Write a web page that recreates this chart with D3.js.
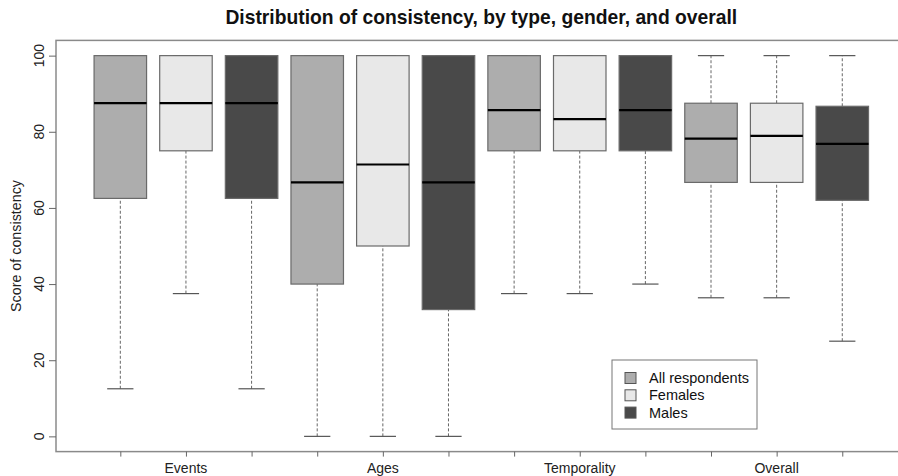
<!DOCTYPE html>
<html>
<head>
<meta charset="utf-8">
<script src="https://cdn.jsdelivr.net/npm/d3@7"></script>
<style>
  body { margin: 0; background: #fff; }
  svg { display: block; font-family: "Liberation Sans", Arial, sans-serif; }
</style>
</head>
<body>
<svg id="chart" width="898" height="476"></svg>
<script>
// categories and groups
const categories = ["Events", "Ages", "Temporality", "Overall"];
const groups = ["All respondents", "Females", "Males"];

// box stats per category: [lower whisker, q1, median, q3, upper whisker]
const allRespondents = [[12.5, 62.5, 87.5, 100, 100], [0, 40, 66.7, 100, 100], [37.5, 75, 85.7, 100, 100], [36.4, 66.7, 78.2, 87.5, 100]];
const females        = [[37.5, 75, 87.5, 100, 100], [0, 50, 71.4, 100, 100], [37.5, 75, 83.3, 100, 100], [36.4, 66.7, 78.9, 87.5, 100]];
const males          = [[12.5, 62.5, 87.5, 100, 100], [0, 33.3, 66.7, 100, 100], [40, 75, 85.7, 100, 100], [25, 62, 76.8, 86.7, 100]];

const yTicks = [0, 20, 40, 60, 80, 100];

const fills = ["#adadad", "#e8e8e8", "#494949"];

// flatten into one row per box, same order as the plot (All, Females, Males per category)
const series = [allRespondents, females, males];
let boxes = [];
categories.forEach((c, ci) => {
    groups.forEach((g, gi) => {
        let s = series[gi][ci];
        boxes.push({ pos: ci * 3 + gi + 1, group: gi, lo: s[0], q1: s[1], med: s[2], q3: s[3], hi: s[4] });
    });
});

const svg = d3.select('#chart');

// R style plot region: positions 1..12, 4% padding on each axis
const x = d3.scaleLinear().domain([0.02, 12.98]).range([56, 906.6]);
const y = d3.scaleLinear().domain([-4, 104]).range([451.6, 40.4]);

const boxW = (x(1) - x(0)) * 0.8;
const stapleW = boxW / 2;

// title
svg.append('text')
    .attr('x', (x.range()[0] + x.range()[1]) / 2)
    .attr('y', 24)
    .attr('text-anchor', 'middle')
    .attr('font-size', 19.3)
    .attr('font-weight', 'bold')
    .attr('fill', '#111')
    .text('Distribution of consistency, by type, gender, and overall');

// whiskers (dashed)
let bx = svg.append('g');
boxes.forEach(b => {
    let cx = x(b.pos);
    [[b.lo, b.q1], [b.q3, b.hi]].forEach(seg => {
        if (seg[0] === seg[1]) return;
        bx.append('line')
            .attr('x1', cx).attr('x2', cx)
            .attr('y1', y(seg[0])).attr('y2', y(seg[1]))
            .attr('stroke', '#666')
            .attr('stroke-width', 1)
            .attr('stroke-dasharray', '3,2');
    });
    // staples
    [b.lo, b.hi].forEach(v => {
        bx.append('line')
            .attr('x1', cx - stapleW / 2).attr('x2', cx + stapleW / 2)
            .attr('y1', y(v)).attr('y2', y(v))
            .attr('stroke', '#555')
            .attr('stroke-width', 1.2);
    });
});

// boxes
bx.selectAll('rect.box')
    .data(boxes)
    .join('rect')
    .attr('class', 'box')
    .attr('x', d => x(d.pos) - boxW / 2)
    .attr('width', boxW)
    .attr('y', d => y(d.q3))
    .attr('height', d => y(d.q1) - y(d.q3))
    .attr('fill', d => fills[d.group])
    .attr('stroke', '#6a6a6a')
    .attr('stroke-width', 1.2);

// medians
bx.selectAll('line.med')
    .data(boxes)
    .join('line')
    .attr('class', 'med')
    .attr('x1', d => x(d.pos) - boxW / 2)
    .attr('x2', d => x(d.pos) + boxW / 2)
    .attr('y1', d => y(d.med))
    .attr('y2', d => y(d.med))
    .attr('stroke', '#000')
    .attr('stroke-width', 2.2);

// frame (right side falls outside the picture, as in the original)
svg.append('rect')
    .attr('x', x.range()[0]).attr('y', y.range()[1])
    .attr('width', x.range()[1] - x.range()[0])
    .attr('height', y.range()[0] - y.range()[1])
    .attr('fill', 'none')
    .attr('stroke', '#8a8a8a')
    .attr('stroke-width', 1.5);

// y axis
let yAxis = svg.append('g')
    .attr('transform', `translate(${x.range()[0]},0)`)
    .call(d3.axisLeft(y).tickValues(yTicks).tickSize(7).tickFormat(''));
yAxis.select('.domain').remove();
yAxis.selectAll('line').attr('stroke', '#666');

svg.append('g').selectAll('text')
    .data(yTicks)
    .join('text')
    .attr('transform', d => `translate(44,${y(d)}) rotate(-90)`)
    .attr('text-anchor', 'middle')
    .attr('font-size', 14)
    .attr('fill', '#222')
    .text(d => d);

svg.append('text')
    .attr('transform', `translate(21,${(y.range()[0] + y.range()[1]) / 2}) rotate(-90)`)
    .attr('text-anchor', 'middle')
    .attr('font-size', 14.3)
    .attr('fill', '#222')
    .text('Score of consistency');

// x axis: a tick at every box, label under the middle box of each category
let xAxis = svg.append('g')
    .attr('transform', `translate(0,${y.range()[0]})`)
    .call(d3.axisBottom(x).tickValues(d3.range(1, 13)).tickSize(5).tickFormat(''));
xAxis.select('.domain').remove();
xAxis.selectAll('line').attr('stroke', '#666');

svg.append('g').selectAll('text')
    .data(categories)
    .join('text')
    .attr('x', (d, i) => x(i * 3 + 2))
    .attr('y', 472.5)
    .attr('text-anchor', 'middle')
    .attr('font-size', 14)
    .attr('fill', '#222')
    .text(d => d);

// legend
let lg = svg.append('g').attr('transform', 'translate(612,360)');
lg.append('rect')
    .attr('width', 145).attr('height', 69)
    .attr('fill', '#fff')
    .attr('stroke', '#777')
    .attr('stroke-width', 1);
groups.forEach((g, i) => {
    let row = lg.append('g').attr('transform', `translate(0,${18 + i * 17.3})`);
    row.append('rect')
        .attr('x', 13).attr('y', -5.5)
        .attr('width', 11).attr('height', 11)
        .attr('fill', fills[i])
        .attr('stroke', '#555')
        .attr('stroke-width', 1);
    row.append('text')
        .attr('x', 37).attr('y', 5)
        .attr('font-size', 14.5)
        .attr('fill', '#111')
        .text(g);
});
</script>
</body>
</html>
